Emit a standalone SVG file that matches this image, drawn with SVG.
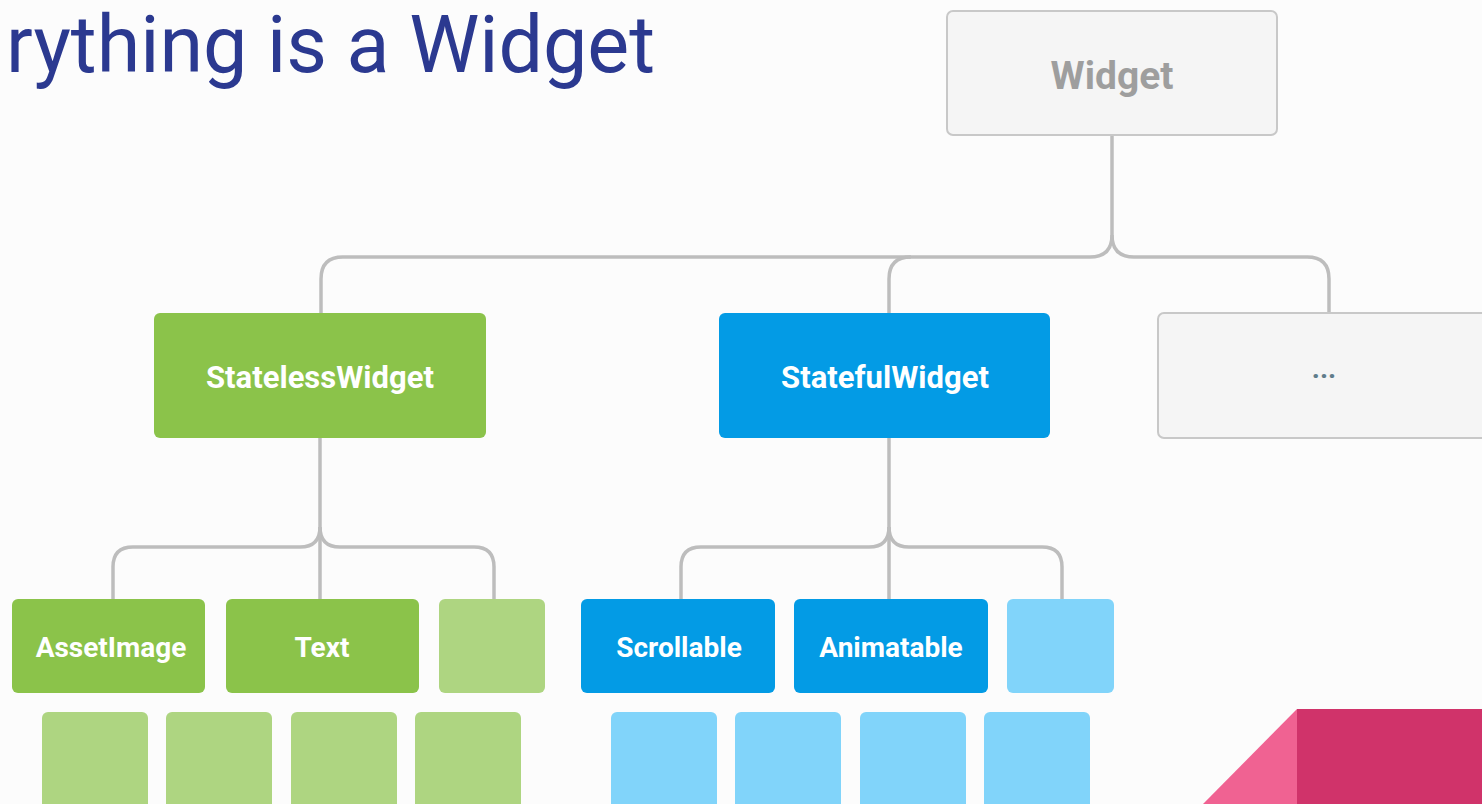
<svg xmlns="http://www.w3.org/2000/svg" width="1482" height="804" viewBox="0 0 1482 804">
<style>
.lbl{font-family:Roboto,"Liberation Sans",sans-serif;font-weight:bold;fill:#ffffff;text-anchor:middle}
.conn{fill:none;stroke:#bdbdbd;stroke-width:3.5}
.grn{fill:#8bc34a}
.lgrn{fill:#aed581}
.blu{fill:#039be5}
.lblu{fill:#81d4fa}
.gry{fill:#f5f5f5;stroke:#c8c8c8;stroke-width:2}
</style>
<rect x="0" y="0" width="1482" height="804" fill="#fcfcfc"/>
<text x="6" y="72" font-family="Roboto,'Liberation Sans',sans-serif" font-size="79" fill="#2b3990">rything is a Widget</text>
<g id="connectors">
<path class="conn" d="M1112 135 V235 Q1112 257 1090 257 H343 Q321 257 321 279 V313"/>
<path class="conn" d="M1112 235 Q1112 257 1134 257 H1307 Q1329 257 1329 279 V313"/>
<path class="conn" d="M889 313 V279 Q889 257 911 257"/>
<path class="conn" d="M320 438 V527 Q320 547 300 547 H133 Q113 547 113 567 V599"/>
<path class="conn" d="M320 527 Q320 547 340 547 H474 Q494 547 494 567 V599"/>
<path class="conn" d="M320 527 V599"/>
<path class="conn" d="M889 438 V527 Q889 547 869 547 H701 Q681 547 681 567 V599"/>
<path class="conn" d="M889 527 Q889 547 909 547 H1042 Q1062 547 1062 567 V599"/>
<path class="conn" d="M889 527 V599"/>
</g>
<g id="widget"><rect class="gry" x="947" y="11" width="330" height="124" rx="6"/><text class="lbl" x="1112" y="89" font-size="39" style="fill:#9e9e9e">Widget</text></g>
<g id="stateless"><rect class="grn" x="154" y="313" width="332" height="125" rx="6"/><text class="lbl" x="320" y="388" font-size="31">StatelessWidget</text></g>
<g id="stateful"><rect class="blu" x="719" y="313" width="331" height="125" rx="6"/><text class="lbl" x="885" y="388" font-size="31">StatefulWidget</text></g>
<g id="more"><rect class="gry" x="1158" y="313" width="340" height="125" rx="6"/><text class="lbl" x="1324" y="378" font-size="28" style="fill:#607d8b">...</text></g>
<g id="assetimage"><rect class="grn" x="12" y="599" width="193" height="94" rx="6"/><text class="lbl" x="111" y="657" font-size="28">AssetImage</text></g>
<g id="text"><rect class="grn" x="226" y="599" width="193" height="94" rx="6"/><text class="lbl" x="322" y="657" font-size="28">Text</text></g>
<g id="green-more"><rect class="lgrn" x="439" y="599" width="106" height="94" rx="6"/></g>
<g id="scrollable"><rect class="blu" x="581" y="599" width="194" height="94" rx="6"/><text class="lbl" x="679" y="657" font-size="28">Scrollable</text></g>
<g id="animatable"><rect class="blu" x="794" y="599" width="194" height="94" rx="6"/><text class="lbl" x="891" y="657" font-size="28">Animatable</text></g>
<g id="blue-more"><rect class="lblu" x="1007" y="599" width="107" height="94" rx="6"/></g>
<g id="green-row">
<rect class="lgrn" x="42" y="712" width="106" height="110" rx="6"/>
<rect class="lgrn" x="166" y="712" width="106" height="110" rx="6"/>
<rect class="lgrn" x="291" y="712" width="106" height="110" rx="6"/>
<rect class="lgrn" x="415" y="712" width="106" height="110" rx="6"/>
</g>
<g id="blue-row">
<rect class="lblu" x="611" y="712" width="106" height="110" rx="6"/>
<rect class="lblu" x="735" y="712" width="106" height="110" rx="6"/>
<rect class="lblu" x="860" y="712" width="106" height="110" rx="6"/>
<rect class="lblu" x="984" y="712" width="106" height="110" rx="6"/>
</g>
<g id="corner">
<polygon points="1297,709 1297,804 1203,804" fill="#f06292"/>
<rect x="1297" y="709" width="185" height="95" fill="#d0336a"/>
</g>
</svg>
